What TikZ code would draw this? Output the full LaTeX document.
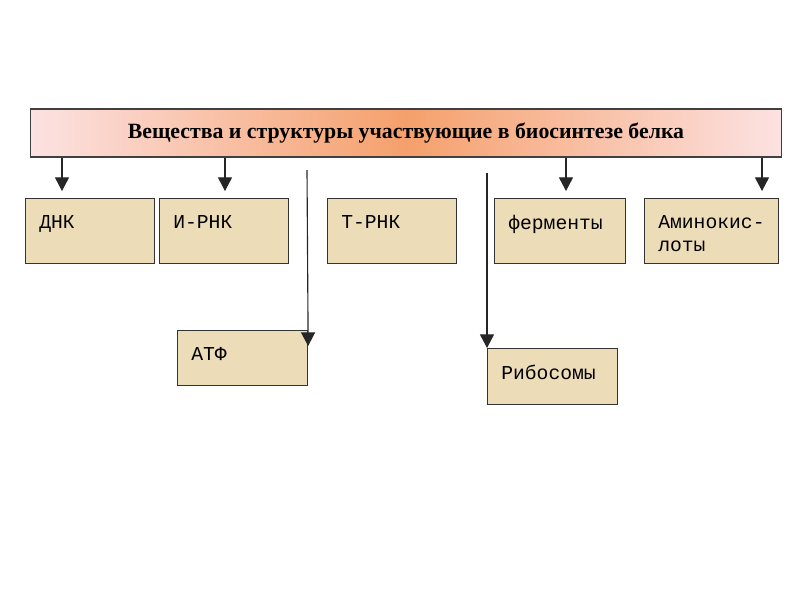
\documentclass[tikz,border=0pt]{standalone}
\usepackage{fontspec}
\setmainfont{Liberation Serif}
\newfontfamily\boxfont{Liberation Mono}
\usetikzlibrary{arrows.meta}

\definecolor{boxfill}{RGB}{236,220,184}
\definecolor{barpink}{RGB}{252,226,226}
\definecolor{barorange}{RGB}{245,160,108}

\begin{document}
\begin{tikzpicture}[
    x=0.025cm, y=-0.025cm,
    >={Triangle[length=0.34cm, width=0.35cm]},
    head/.style={draw=black!75, line width=0.8pt, left color=barpink, right color=barpink,
        middle color=barorange, minimum width=18.75cm, minimum height=1.2cm,
        font=\fontsize{15.5}{17}\selectfont\bfseries},
    box/.style={draw=black!80, fill=boxfill, line width=0.8pt, anchor=north west,
        minimum height=1.625cm, inner sep=0pt},
    lbl/.style={anchor=north west, inner sep=0pt, xshift=0.35cm, yshift=-0.42cm,
        align=left, font=\boxfont\fontsize{14}{16.5}\selectfont},
    tag/.style={label={[lbl]north west:\vphantom{Д}#1}},
    line/.style={draw=black!85, line width=0.8pt}
]
    \useasboundingbox (0,0) rectangle (800,600);

    % заголовок
    \node[head] (head) at (406,133) {Вещества и структуры участвующие в биосинтезе белка};

    % верхний ряд блоков
    \node[box, minimum width=3.225cm, tag={ДНК}] (dnk) at (25,198) {};
    \node[box, minimum width=3.225cm, tag={И-РНК}] (irnk) at (159,198) {};
    \node[box, minimum width=3.225cm, tag={Т-РНК}] (trnk) at (327,198) {};
    \node[box, minimum width=3.275cm, tag={ферменты}] (ferm) at (494,198) {};
    \node[box, minimum width=3.35cm, tag={Аминокис-\\лоты}] (amino) at (644,198) {};

    % нижние блоки
    \node[box, minimum width=3.25cm, minimum height=1.375cm, tag={АТФ}] (atf) at (177,330) {};
    \node[box, minimum width=3.25cm, minimum height=1.4cm, tag={Рибосомы}] (ribo) at (487,348) {};

    % концы стрелок
    \coordinate (aDnk) at (62,191);
    \coordinate (aIrnk) at (225,191);
    \coordinate (aFerm) at (566,191);
    \coordinate (aAmino) at (762,191);
    \coordinate (sAtf) at (307,170);
    \coordinate (sRibo) at (487,173);

    % стрелки от заголовка
    \draw[line, ->] (head.south -| aDnk) -- (aDnk);
    \draw[line, ->] (head.south -| aIrnk) -- (aIrnk);
    \draw[line, ->] (head.south -| aFerm) -- (aFerm);
    \draw[line, ->] (head.south -| aAmino) -- (aAmino);

    % вертикальные линии к нижним блокам
    \draw[line, ->] (sAtf) -- ([yshift=-0.4cm]atf.north east);
    \draw[line, ->] (sRibo) -- (ribo.north west);
\end{tikzpicture}
\end{document}
